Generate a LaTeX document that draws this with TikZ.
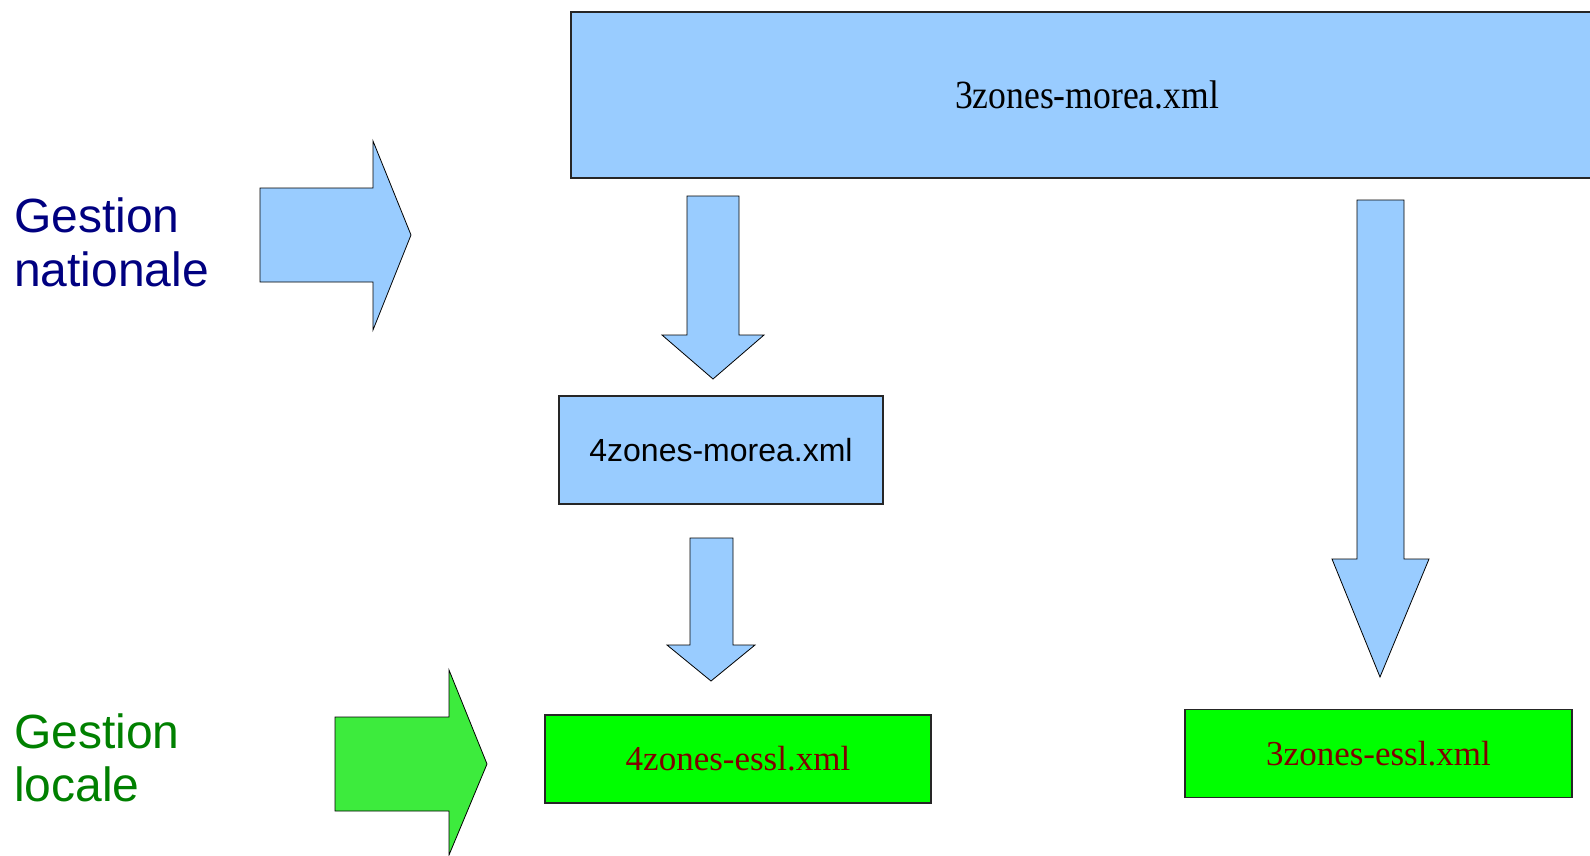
\documentclass[tikz,border=0pt]{standalone}
\usepackage{fontspec}
\setmainfont{Liberation Serif}
\setsansfont{Liberation Sans}
\usetikzlibrary{positioning}
\definecolor{fileblue}{HTML}{99CCFF}
\definecolor{filegreen}{HTML}{00FF00}
\definecolor{arrowgreen}{HTML}{3DEB3D}
\definecolor{essred}{HTML}{800000}
\definecolor{natblue}{HTML}{000080}
\definecolor{locgreen}{HTML}{008000}

\tikzset{
  filebox/.style={draw=black!85, line width=1.5pt, inner sep=0pt, minimum width=#1},
  bluefile/.style={filebox=#1, fill=fileblue},
  greenfile/.style={filebox=#1, fill=filegreen, text=essred, minimum height=88pt,
    font=\fontsize{35}{35}\selectfont},
  blockarrow/.style={draw=black, line width=0.8pt, line join=miter},
  gestion/.style={anchor=base west, inner sep=0pt, font=\sffamily\fontsize{48}{54}\selectfont}
}

\begin{document}
\begin{tikzpicture}[x=1pt,y=-1pt]
\useasboundingbox (0,0) rectangle (1590,856);
% fichiers
\node[bluefile=1032pt, minimum height=166pt, font=\fontsize{40}{40}\selectfont]
  (morea3) at (1087,95) {\scalebox{0.89}[1]{3zones-morea.xml}};
\node[bluefile=324pt, minimum height=108pt, font=\sffamily\fontsize{32}{32}\selectfont]
  (morea4) at (721,450) {4zones-morea.xml};
\node[greenfile=386pt] (essl4) at (738,759) {4zones-essl.xml};
\node[greenfile=387pt] (essl3) at (1378.5,753.5) {3zones-essl.xml};
% fleches verticales
\draw[blockarrow, fill=fileblue] (687,196)--(739,196)--(739,335)--(764,335)--(713,379)
  --(662,335)--(687,335)--cycle;
\draw[blockarrow, fill=fileblue] (690,538)--(733,538)--(733,645)--(755,645)--(711,681)
  --(667,645)--(690,645)--cycle;
\draw[blockarrow, fill=fileblue] (1357,200)--(1404,200)--(1404,559)--(1429,559)--(1380,677)
  --(1332,559)--(1357,559)--cycle;
% niveaux
\draw[blockarrow, fill=fileblue] (260,188)--(373,188)--(373,141)--(411,235)--(373,330)
  --(373,282)--(260,282)--cycle;
\draw[blockarrow, fill=arrowgreen] (335,717)--(449,717)--(449,670)--(487,764)--(449,855)
  --(449,811)--(335,811)--cycle;
\node[gestion, text=natblue] (nat1) at (14,232) {Gestion};
\node[gestion, text=natblue] (nat2) at (14,286) {nationale};
\node[gestion, text=locgreen] (loc1) at (14,748) {Gestion};
\node[gestion, text=locgreen] (loc2) at (14,801) {locale};
\end{tikzpicture}
\end{document}
